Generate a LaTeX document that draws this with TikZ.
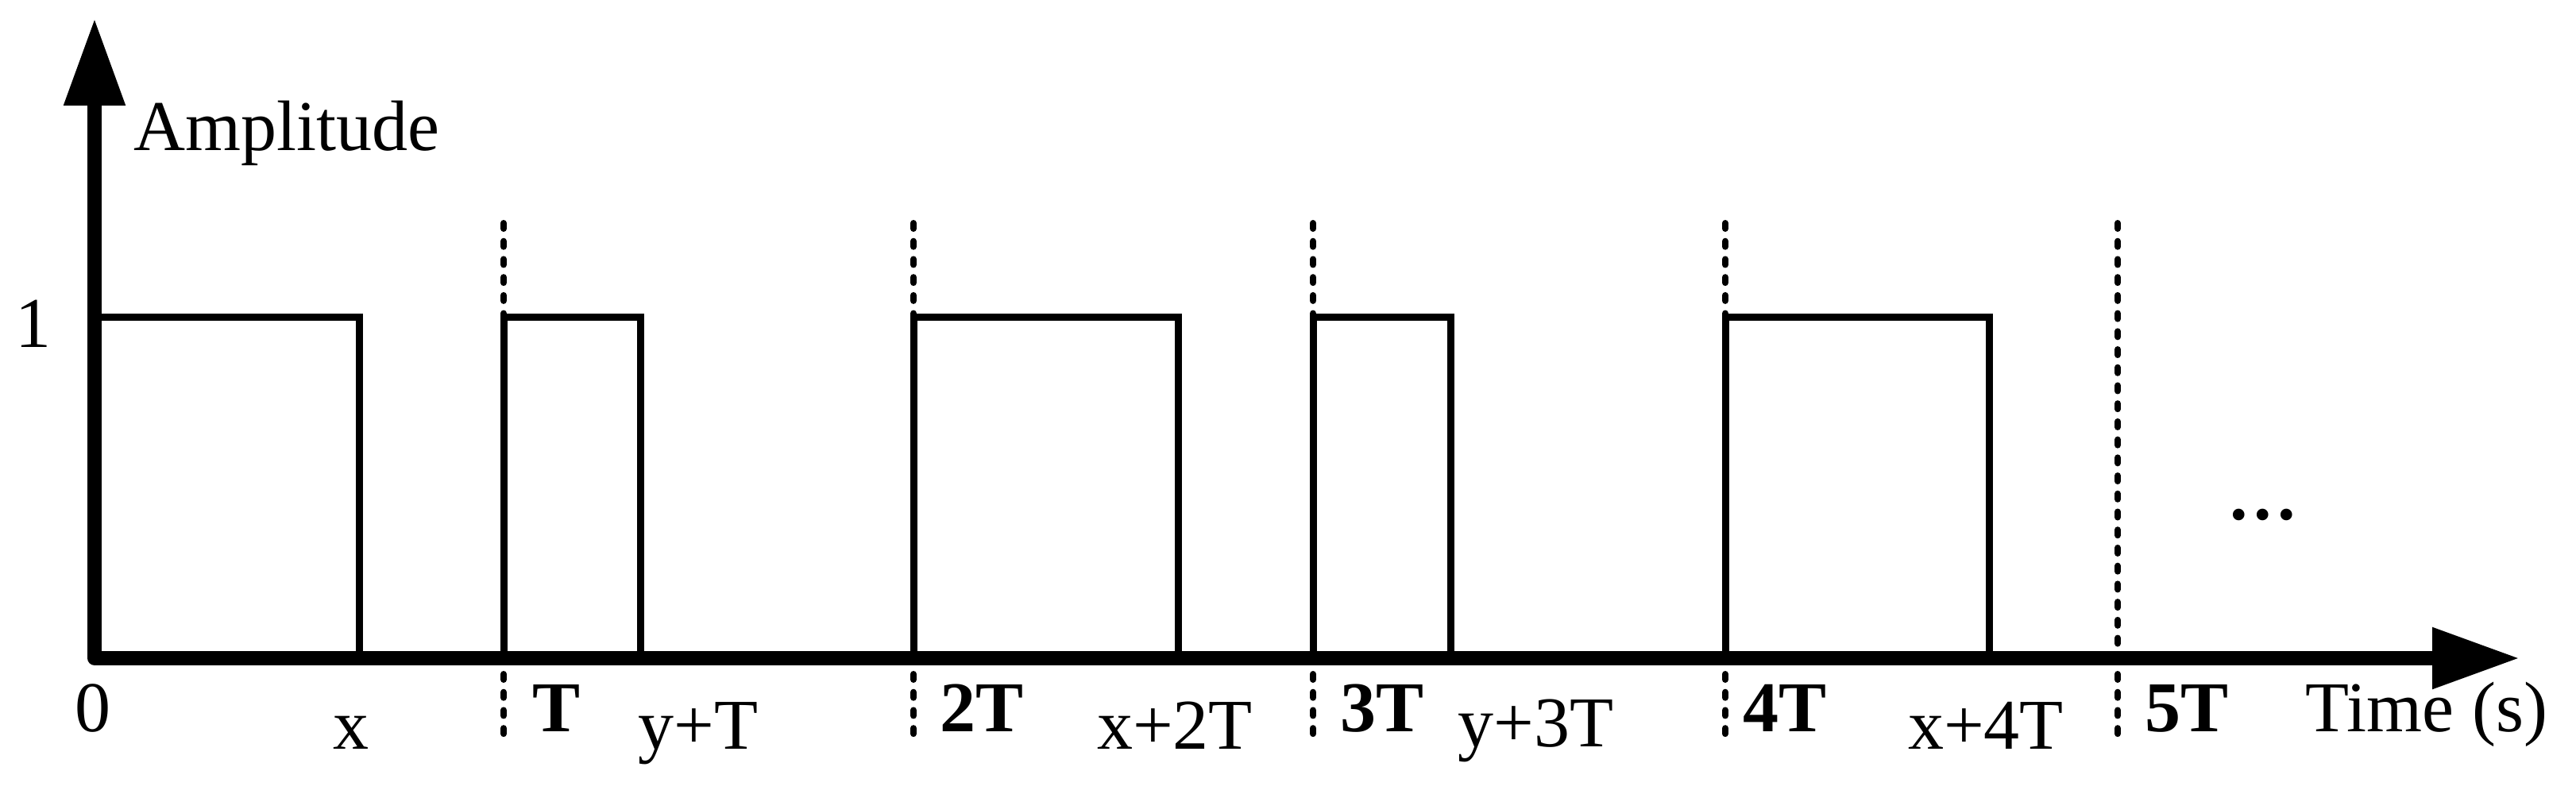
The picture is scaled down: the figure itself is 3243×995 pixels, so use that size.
\documentclass[tikz,border=0pt]{standalone}
\usepackage{fontspec}
\setmainfont{Liberation Serif}
\usetikzlibrary{arrows.meta}
\begin{document}
\begin{tikzpicture}[x=0.25pt,y=-0.25pt,
  axis/.style={line width=4.4pt, line join=round,
    {Triangle[length=27.5pt,width=18.3pt]}-{Triangle[length=27.5pt,width=18.3pt]}},
  pulse/.style={line width=2.25pt, line join=miter},
  guide/.style={line width=2pt, line cap=round, dash pattern=on 1.75pt off 3.93pt},
  lbl/.style={font=\fontsize{22.5}{27}\selectfont, inner sep=0pt},
  blbl/.style={font=\fontsize{22.5}{27}\selectfont\bfseries, inner sep=0pt},
]
\useasboundingbox (0,0) rectangle (3243,995);
% key coordinates
\coordinate (O) at (119,829);
\coordinate (ytip) at (119,23);
\coordinate (xtip) at (3172,829);
% dashed period guides
\foreach \nm/\xx in {gT/634, g2T/1150, g3T/1653, g4T/2172, g5T/2666}{
  \coordinate (\nm-top) at (\xx,281);
  \coordinate (\nm-bot) at (\xx,928);
  \draw[guide] (\nm-top) -- (\nm-bot);
}
% pulses
\coordinate (p1a) at (119,399); \coordinate (p1b) at (452,399); \coordinate (p1c) at (452,829);
\draw[pulse] (p1a) -- (p1b) -- (p1c);
\foreach \nm/\xa/\xb in {p2/634/806, p3/1150/1483, p4/1653/1826, p5/2172/2504}{
  \coordinate (\nm-a) at (\xa,829);
  \coordinate (\nm-b) at (\xa,399);
  \coordinate (\nm-c) at (\xb,399);
  \coordinate (\nm-d) at (\xb,829);
  \draw[pulse] (\nm-a) -- (\nm-b) -- (\nm-c) -- (\nm-d);
}
% axes
\draw[axis] (ytip) -- (O) -- (xtip);
% labels
\node[lbl, anchor=base west] (amp) at (168,190) {Amplitude};
\node[lbl, anchor=base] (one) at (42,437) {1};
\node[lbl, anchor=base] (zero) at (117,921) {0};
\node[lbl, anchor=base] (lx) at (442,943) {x};
\node[blbl, anchor=base west] (lT) at (670,921) {T};
\node[lbl, anchor=base west] (lyT) at (803,943) {y+T};
\node[blbl, anchor=base west] (l2T) at (1183,921) {2T};
\node[lbl, anchor=base] (lx2T) at (1479,943) {x+2T};
\node[blbl, anchor=base west] (l3T) at (1687,921) {3T};
\node[lbl, anchor=base west] (ly3T) at (1835,940) {y+3T};
\node[blbl, anchor=base west] (l4T) at (2194,921) {4T};
\node[lbl, anchor=base] (lx4T) at (2500,943) {x+4T};
\node[blbl, anchor=base west] (l5T) at (2700,921) {5T};
\node[lbl, anchor=base west] (ltime) at (2902,921) {Time (s)};
\node[blbl, anchor=base] (dots) at (2849,654) {.\hspace{1.875pt}.\hspace{1.875pt}.};
\end{tikzpicture}
\end{document}
